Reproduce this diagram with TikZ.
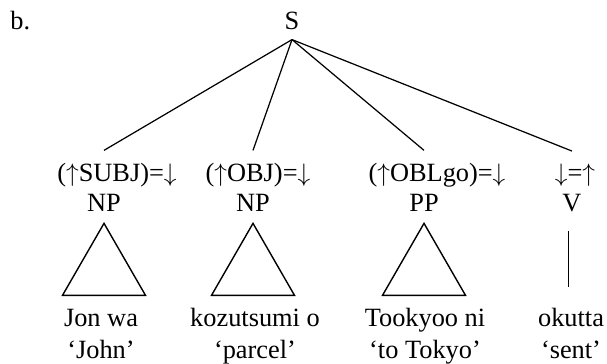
\documentclass[tikz,border=0pt]{standalone}
\usepackage{fontspec}
\setmainfont{Liberation Serif}
\usetikzlibrary{calc}

\newcommand{\up}{$\uparrow$}
\newcommand{\dn}{$\downarrow$}

\begin{document}
\begin{tikzpicture}[x=0.02cm,y=-0.02cm,
  lbl/.style={anchor=base,inner sep=0pt,font=\fontsize{15}{18}\selectfont},
  edge/.style={line width=0.7pt},
  tri/.style={line width=0.8pt,line join=miter}]
\useasboundingbox (0,0) rectangle (607,364);
\node[lbl,anchor=base west] (ex) at (10,30) {b.};
\node[lbl] (S) at (292,30) {S};
% annotations and categories
\node[lbl] (a1) at (117,182) {(\up SUBJ)=\dn};
\node[lbl] (a2) at (258,182) {(\up OBJ)=\dn};
\node[lbl] (a3) at (437,182) {(\up OBLgo)=\dn};
\node[lbl] (a4) at (575,182) {\dn=\up};
\node[lbl] (c1) at (104,212) {NP};
\node[lbl] (c2) at (253,212) {NP};
\node[lbl] (c3) at (424,212) {PP};
\node[lbl] (c4) at (572,212) {V};
% words and glosses
\node[lbl] (w1) at (101,326) {Jon wa};
\node[lbl] (w2) at (255,326) {kozutsumi o};
\node[lbl] (w3) at (425,326) {Tookyoo ni};
\node[lbl] (w4) at (571,326) {okutta};
\node[lbl] (g1) at (101,358) {‘John’};
\node[lbl] (g2) at (255,358) {‘parcel’};
\node[lbl] (g3) at (425,358) {‘to Tokyo’};
\node[lbl] (g4) at (571,358) {‘sent’};
% branches from S
\coordinate (top) at ($(S.south)+(0,9)$);
\foreach \i in {1,...,4}
  \draw[edge] (top) -- ($(c\i |- a\i.north)+(0,-13)$);
% triangles
\foreach \i in {1,2,3}
  \draw[tri] ($(c\i.south)+(0,11)$) -- ++(-41.5,72) -- ++(83,0) -- cycle;
\draw[edge,line width=0.55pt] ($(c4.south)+(-4,18)$) -- ($(w4.north)+(-3,-20)$);
\end{tikzpicture}
\end{document}
